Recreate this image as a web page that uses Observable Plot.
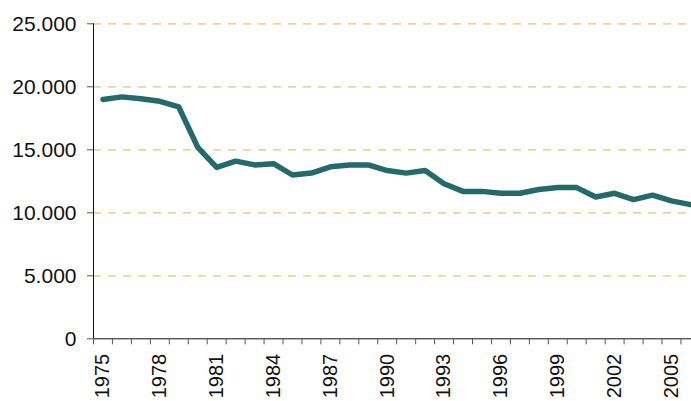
<!DOCTYPE html>
<html>
<head>
<meta charset="utf-8">
<script src="https://cdn.jsdelivr.net/npm/d3@7"></script>
<script src="https://cdn.jsdelivr.net/npm/@observablehq/plot@0.6"></script>
<style>
  html, body { margin: 0; padding: 0; background: #fff; overflow: hidden; }
  #chart svg { overflow: hidden; display: block; }
</style>
</head>
<body>
<div id="chart"></div>
<script>
const years = d3.range(1975, 2007);
const values = [19000, 19200, 19050, 18850, 18400, 15200, 13600, 14100, 13800, 13900,
                13000, 13150, 13650, 13800, 13800, 13350, 13150, 13350, 12300, 11700,
                11700, 11550, 11550, 11850, 12000, 12000, 11250, 11550, 11050, 11400,
                10950, 10650];
const yTicks = [0, 5000, 10000, 15000, 20000, 25000];
const xLabels = [1975, 1978, 1981, 1984, 1987, 1990, 1993, 1996, 1999, 2002, 2005];

const data = years.map((y, i) => ({year: y, value: values[i]}));
const bandEdges = d3.range(1974.5, 2007.5, 1);
const fmt = d => d === 0 ? "0" : d3.format(",")(d).replace(/,/g, ".");

const chart = Plot.plot({
  width: 691,
  height: 401,
  marginTop: 0, marginBottom: 0, marginLeft: 93, marginRight: 0,
  style: {fontFamily: "'Liberation Sans', Arial, sans-serif", fontSize: "21px", color: "#111", background: "#fff"},
  x: {domain: [1974.5, 2006.5], range: [93, 699.4], axis: null},
  y: {domain: [0, 25000], range: [338.3, 23.3], axis: null},
  marks: [
    Plot.ruleY(yTicks.filter(d => d > 0), {x1: 1974.5, x2: 2008, stroke: "#e6d89c", strokeWidth: 1.8, strokeDasharray: "8,7"}),
    Plot.ruleX([1974.5], {y1: 0, y2: 25000, stroke: "#111", strokeWidth: 1}),
    Plot.ruleY([0], {x1: 1974.5, x2: 2008, stroke: "#111", strokeWidth: 1}),
    Plot.axisY({ticks: yTicks, tickFormat: fmt, tickSize: 6, tickPadding: 11, fontSize: 21, stroke: "#555", label: null}),
    Plot.ruleX(bandEdges, {x: d => d, y1: 0, y2: -480, stroke: "#555", strokeWidth: 1}),
    Plot.line(data, {x: "year", y: "value", stroke: "#246a6b", strokeWidth: 5.5, strokeLinejoin: "round", strokeLinecap: "round"}),
    Plot.text(xLabels, {x: d => d, y: 0, text: d => String(d), rotate: -90, textAnchor: "end", lineAnchor: "middle", dy: 15, fontSize: 20, fill: "#111"})
  ]
});
document.getElementById("chart").appendChild(chart);
</script>
</body>
</html>
